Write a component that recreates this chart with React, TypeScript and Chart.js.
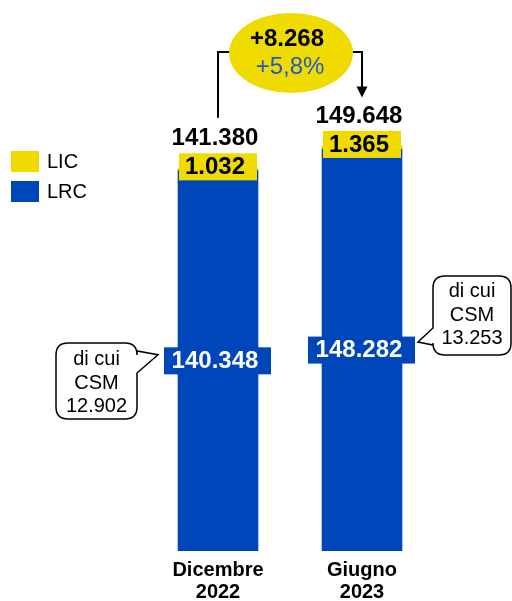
import React, { useEffect, useRef } from "react";
import { Chart, registerables } from "chart.js";

Chart.register(...registerables);

const categories = [["Dicembre", "2022"], ["Giugno", "2023"]];
const lrcValues = [140348, 148282];
const licValues = [1032, 1365];
const totalLabels = ["141.380", "149.648"];
const lrcLabels = ["140.348", "148.282"];
const licLabels = ["1.032", "1.365"];
const csmLabels = ["12.902", "13.253"];
const deltaAbs = "+8.268";
const deltaPct = "+5,8%";

const YELLOW = "#efdb00";
const BLUE = "#0046bb";
const FONT = "'Liberation Sans', Arial, sans-serif";

function calloutPath(
  ctx: CanvasRenderingContext2D,
  L: number, T: number, R: number, B: number, r: number,
  side: "left" | "right", b1: number, b2: number, tx: number, ty: number
) {
  ctx.beginPath();
  ctx.moveTo(L + r, T);
  ctx.lineTo(R - r, T);
  ctx.quadraticCurveTo(R, T, R, T + r);
  if (side === "right") {
    ctx.lineTo(R, b1);
    ctx.lineTo(tx, ty);
    ctx.lineTo(R, b2);
  }
  ctx.lineTo(R, B - r);
  ctx.quadraticCurveTo(R, B, R - r, B);
  ctx.lineTo(L + r, B);
  ctx.quadraticCurveTo(L, B, L, B - r);
  if (side === "left") {
    ctx.lineTo(L, b2);
    ctx.lineTo(tx, ty);
    ctx.lineTo(L, b1);
  }
  ctx.lineTo(L, T + r);
  ctx.quadraticCurveTo(L, T, L + r, T);
  ctx.closePath();
}

const overlayPlugin = {
  id: "overlay",
  afterDatasetsDraw(chart: any) {
    const ctx: CanvasRenderingContext2D = chart.ctx;
    const xs = chart.scales.x;
    const ys = chart.scales.y;
    ctx.save();
    ctx.textAlign = "center";
    ctx.textBaseline = "middle";
    const xc: number[] = [];
    const yTop: number[] = [];
    const yMid: number[] = [];
    for (let i = 0; i < categories.length; i++) {
      const x = xs.getPixelForValue(i);
      const total = lrcValues[i] + licValues[i];
      const yt = ys.getPixelForValue(total);
      const y0 = ys.getPixelForValue(0);
      const yl = ys.getPixelForValue(lrcValues[i]);
      const ym = (y0 + yl) / 2;
      xc.push(x); yTop.push(yt); yMid.push(ym);

      // LIC label box
      ctx.fillStyle = YELLOW;
      ctx.fillRect(x - 39, yt - 14.5, 78, 27);
      ctx.fillStyle = "#000";
      ctx.font = `bold 24px ${FONT}`;
      ctx.fillText(licLabels[i], x - 3, yt - 0.5);

      // total label
      ctx.fillText(totalLabels[i], x - 3, yt - 29);

      // LRC label box
      ctx.fillStyle = BLUE;
      ctx.fillRect(x - 54, ym - 13.5, 107, 27);
      ctx.fillStyle = "#fff";
      ctx.fillText(lrcLabels[i], x - 3, ym + 0.5);

      // category labels
      ctx.fillStyle = "#000";
      ctx.font = `bold 20px ${FONT}`;
      ctx.fillText(categories[i][0], x, 570);
      ctx.fillText(categories[i][1], x, 592);
    }

    // callouts
    ctx.lineWidth = 1.5;
    ctx.strokeStyle = "#000";
    ctx.fillStyle = "#fff";
    // left
    {
      const tx = xc[0] - 60, ty = yMid[0] - 6;
      calloutPath(ctx, 56, 343, 137, 419, 12, "right", 351, 373, tx, ty);
      ctx.fill(); ctx.stroke();
      ctx.fillStyle = "#000";
      ctx.font = `20px ${FONT}`;
      ctx.fillText("di cui", 96.5, 359);
      ctx.fillText("CSM", 96.5, 383);
      ctx.fillText(csmLabels[0], 96.5, 406);
    }
    // right
    {
      ctx.fillStyle = "#fff";
      const tx = xc[1] + 56, ty = yMid[1] - 8;
      calloutPath(ctx, 433, 276, 511, 355, 12, "left", 328, 345, tx, ty);
      ctx.fill(); ctx.stroke();
      ctx.fillStyle = "#000";
      ctx.font = `20px ${FONT}`;
      ctx.fillText("di cui", 472, 291);
      ctx.fillText("CSM", 472, 315);
      ctx.fillText(csmLabels[1], 472, 338);
    }

    // connector
    ctx.lineWidth = 2;
    ctx.beginPath();
    ctx.moveTo(xc[0], yTop[0] - 50);
    ctx.lineTo(xc[0], 52);
    ctx.lineTo(232, 52);
    ctx.moveTo(350, 52);
    ctx.lineTo(xc[1], 52);
    ctx.lineTo(xc[1], yTop[1] - 58);
    ctx.stroke();
    ctx.fillStyle = "#000";
    ctx.beginPath();
    ctx.moveTo(xc[1] - 5.5, yTop[1] - 59);
    ctx.lineTo(xc[1] + 5.5, yTop[1] - 59);
    ctx.lineTo(xc[1], yTop[1] - 48);
    ctx.closePath();
    ctx.fill();

    // ellipse
    ctx.fillStyle = YELLOW;
    ctx.beginPath();
    ctx.ellipse(291, 53, 62, 40, 0, 0, Math.PI * 2);
    ctx.fill();
    ctx.fillStyle = "#000";
    ctx.font = `bold 24px ${FONT}`;
    ctx.fillText(deltaAbs, 287, 39);
    ctx.fillStyle = "#1f5cc8";
    ctx.font = `24px ${FONT}`;
    ctx.fillText(deltaPct, 290, 67);

    // legend
    const ds = chart.data.datasets;
    const order = [1, 0];
    ctx.textAlign = "left";
    ctx.font = `20px ${FONT}`;
    order.forEach((di, k) => {
      const y = 151 + k * 30;
      ctx.fillStyle = ds[di].backgroundColor;
      ctx.fillRect(11, y, 28, 21);
      ctx.fillStyle = "#000";
      ctx.fillText(ds[di].label, 47, y + 11);
    });
    ctx.restore();
  },
};

export default function App() {
  const ref = useRef<HTMLCanvasElement>(null);
  useEffect(() => {
    if (!ref.current) return;
    const chart = new Chart(ref.current, {
      type: "bar",
      data: {
        labels: categories.map((c) => c.join(" ")),
        datasets: [
          { label: "LRC", data: lrcValues, backgroundColor: BLUE, barThickness: 80, borderWidth: 0 },
          { label: "LIC", data: licValues, backgroundColor: YELLOW, barThickness: 80, borderWidth: 0 },
        ],
      },
      options: {
        responsive: false,
        animation: false,
        layout: { padding: { left: 146, right: 78, top: 9, bottom: 50 } },
        plugins: { legend: { display: false }, tooltip: { enabled: false } },
        scales: {
          x: { stacked: true, display: false },
          y: { stacked: true, display: false, min: 0, max: 200000 },
        },
      },
      plugins: [overlayPlugin],
    });
    return () => chart.destroy();
  }, []);
  return (
    <div style={{ position: "absolute", left: 0, top: 0, width: 512, height: 601, background: "#fff" }}>
      <canvas ref={ref} width={512} height={601} style={{ display: "block" }} />
    </div>
  );
}
